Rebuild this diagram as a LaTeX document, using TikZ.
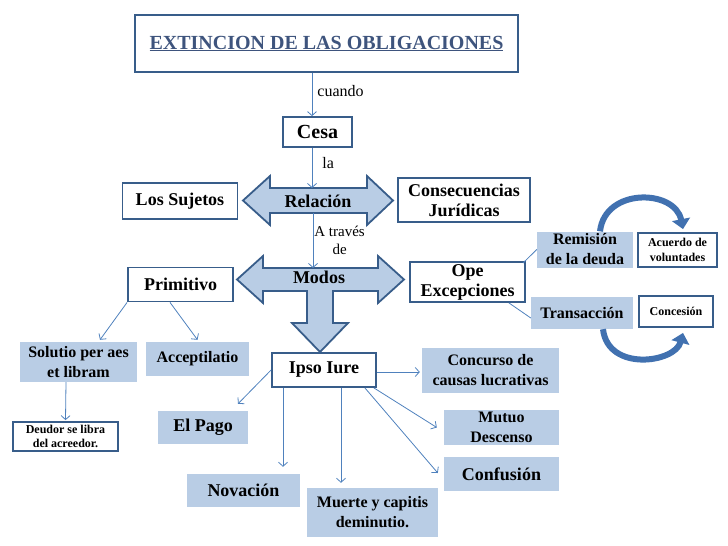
\documentclass[tikz,border=0pt]{standalone}
\usepackage{fontspec}
\setmainfont{Liberation Serif}
\usetikzlibrary{arrows.meta}

\definecolor{boxBlue}{RGB}{56,93,138}
\definecolor{fillBlue}{RGB}{185,205,229}
\definecolor{lineBlue}{RGB}{79,129,189}
\definecolor{titleBlue}{RGB}{62,84,125}
\definecolor{curveBlue}{RGB}{65,113,176}

\begin{document}
\begin{tikzpicture}
[x=1pt,y=-1pt,
  every node/.style={inner sep=0pt,align=center},
  boxNode/.style={draw=boxBlue,line width=1.8pt,fill=white},
  fillNode/.style={fill=fillBlue},
  bigText/.style={font=\fontsize{18}{20}\selectfont\bfseries},
  midText/.style={font=\fontsize{16}{20}\selectfont\bfseries},
  smallText/.style={font=\fontsize{12}{14.5}\selectfont\bfseries},
  edgeText/.style={font=\fontsize{16}{18}\selectfont},
  lineDecorate/.style={-{Straight Barb[length=4pt,width=9pt]},draw=lineBlue,line width=0.8pt},
  lineBare/.style={-,draw=lineBlue,line width=0.8pt},
  bigArrow/.style={draw=boxBlue,line width=1.8pt,fill=fillBlue,line join=miter},
  curveArrow/.style={-{Triangle[length=10pt,width=18pt]},draw=curveBlue,line width=6pt}]
\useasboundingbox (0,0) rectangle (728,546);

% top of the map
\node[boxNode,minimum width=383,minimum height=57,
  font=\fontsize{20}{22}\selectfont\bfseries] (title) at (326.5,43.5)
  {\color{titleBlue}\underline{EXTINCION DE LAS OBLIGACIONES}};
\node[boxNode,minimum width=69,minimum height=30,
  font=\fontsize{20}{22}\selectfont\bfseries] (cesa) at (317.5,132) {Cesa};

% block arrows
\draw[bigArrow] (243,200.5) -- (270,176) -- (270,188) -- (367,188) -- (367,176)
  -- (393,200.5) -- (367,225) -- (367,213) -- (270,213) -- (270,225) -- cycle;
\draw[bigArrow] (237,279.5) -- (263,256) -- (263,268) -- (378,268) -- (378,256)
  -- (404,279.5) -- (378,303) -- (378,291) -- (333,291) -- (333,323) -- (348,323)
  -- (320,352) -- (292,323) -- (307,323) -- (307,291) -- (263,291) -- (263,303) -- cycle;
\node[bigText] (relacion) at (318,201) {Relación};
\node[bigText] (modos) at (319,277) {Modos};
\coordinate (relTop) at (312,188);
\coordinate (relBottom) at (313,213);
\coordinate (modTop) at (313,268);

% boxes beside the arrows
\node[boxNode,bigText,minimum width=115,minimum height=36] (sujetos) at (180,201) {Los Sujetos};
\node[boxNode,bigText,minimum width=132,minimum height=44] (consecuencias) at (464,200)
  {Consecuencias\\Jurídicas};
\node[boxNode,bigText,minimum width=105,minimum height=34] (primitivo) at (180.5,284.5) {Primitivo};
\node[boxNode,bigText,minimum width=115,minimum height=40] (ope) at (467.5,282) {Ope\\Excepciones};

% right side
\node[fillNode,midText,minimum width=96,minimum height=36] (remision) at (585,249.5)
  {Remisión\\de la deuda};
\node[boxNode,smallText,minimum width=79,minimum height=34] (acuerdo) at (677.5,250)
  {Acuerdo de\\voluntades};
\node[fillNode,midText,minimum width=102,minimum height=32] (transaccion) at (582,313) {Transacción};
\node[boxNode,smallText,minimum width=74,minimum height=31] (concesion) at (676,311.5) {Concesión};

% left side
\node[fillNode,midText,minimum width=117,minimum height=40] (solutio) at (78.5,362)
  {Solutio per aes\\et libram};
\node[fillNode,midText,minimum width=103,minimum height=34] (acceptilatio) at (197.5,359) {Acceptilatio};
\node[boxNode,font=\fontsize{12}{14}\selectfont\bfseries,minimum width=105,minimum height=29]
  (deudor) at (65.5,436.5) {Deudor se libra\\del acreedor.};

% ipso iure and its modes
\node[boxNode,bigText,minimum width=104,minimum height=34] (ipso) at (324,370) {Ipso Iure};
\node[fillNode,bigText,minimum width=90,minimum height=33] (elpago) at (203,427.5) {El Pago};
\node[fillNode,bigText,minimum width=113,minimum height=33] (novacion) at (243.5,490.5) {Novación};
\node[fillNode,midText,minimum width=131,minimum height=49] (muerte) at (372.5,512.5)
  {Muerte y capitis\\deminutio.};
\node[fillNode,midText,minimum width=137,minimum height=45] (concurso) at (490.5,370.5)
  {Concurso de\\causas lucrativas};
\node[fillNode,midText,minimum width=115,minimum height=35] (mutuo) at (501.5,427.5)
  {Mutuo\\Descenso};
\node[fillNode,bigText,minimum width=115,minimum height=34] (confusion) at (501.5,474) {Confusión};

% connector ends
\coordinate (primLeft) at (primitivo.south west);
\coordinate (primRight) at ([xshift=-10.5pt]primitivo.south);
\coordinate (solutioIn) at ([xshift=21.5pt,yshift=2pt]solutio.north);
\coordinate (acceptIn) at ([yshift=2pt]acceptilatio.north);
\coordinate (solutioOut) at ([xshift=-12.5pt]solutio.south);
\coordinate (deudorIn) at ([yshift=1pt]deudor.north);
\coordinate (ipsoLeft) at (ipso.west);
\coordinate (ipsoDownA) at ([xshift=-41pt]ipso.south);
\coordinate (ipsoDownB) at ([xshift=17pt]ipso.south);
\coordinate (ipsoRight) at ([yshift=-2pt]ipso.east);
\coordinate (ipsoCornerA) at ([xshift=-3pt]ipso.south east);
\coordinate (ipsoCornerB) at ([xshift=-12pt]ipso.south east);
\coordinate (pagoIn) at ([xshift=35pt,yshift=7pt]elpago.north);
\coordinate (novacionIn) at ([xshift=39.5pt,yshift=7pt]novacion.north);
\coordinate (muerteIn) at ([xshift=-31.5pt,yshift=5pt]muerte.north);
\coordinate (concursoIn) at ([xshift=-2pt,yshift=-1.5pt]concurso.west);
\coordinate (mutuoIn) at ([xshift=-7pt]mutuo.west);
\coordinate (confusionIn) at ([xshift=-6pt,yshift=1pt]confusion.west);

% labelled connectors
\draw[lineDecorate] ([xshift=-14.5pt]title.south) -- ([xshift=-5.5pt]cesa.north)
  node[edgeText,pos=0.42,right=5pt] (cuando) {cuando};
\draw[lineDecorate] ([xshift=-5.5pt]cesa.south) -- (relTop)
  node[edgeText,pos=0.38,right=10pt] (la) {la};
\draw[lineDecorate] (relBottom) -- (modTop)
  node[font=\fontsize{15}{18}\selectfont,midway,right=1pt] (atraves) {A través\\de};

\path
\foreach \startNode/\endNode in {
  primLeft/solutioIn, primRight/acceptIn, solutioOut/deudorIn,
  ipsoLeft/pagoIn, ipsoDownA/novacionIn, ipsoDownB/muerteIn,
  ipsoRight/concursoIn, ipsoCornerA/mutuoIn, ipsoCornerB/confusionIn}
{
  (\startNode) edge[lineDecorate] (\endNode)
};
\draw[lineBare] ([xshift=-3pt,yshift=-2pt]ope.north east) -- (remision.west);
\draw[lineBare] ([xshift=-17pt]ope.south east) -- ([yshift=-5pt]transaccion.west);

% curved block arrows
\draw[curveArrow] ([xshift=15pt]remision.north) .. controls +(5,-44) and +(-8,-40)
  .. ([xshift=5.5pt,yshift=3pt]acuerdo.north);
\draw[curveArrow] ([xshift=21pt]transaccion.south) .. controls +(5,43) and +(-8,30)
  .. ([xshift=7pt,yshift=-5pt]concesion.south);
\end{tikzpicture}
\end{document}
